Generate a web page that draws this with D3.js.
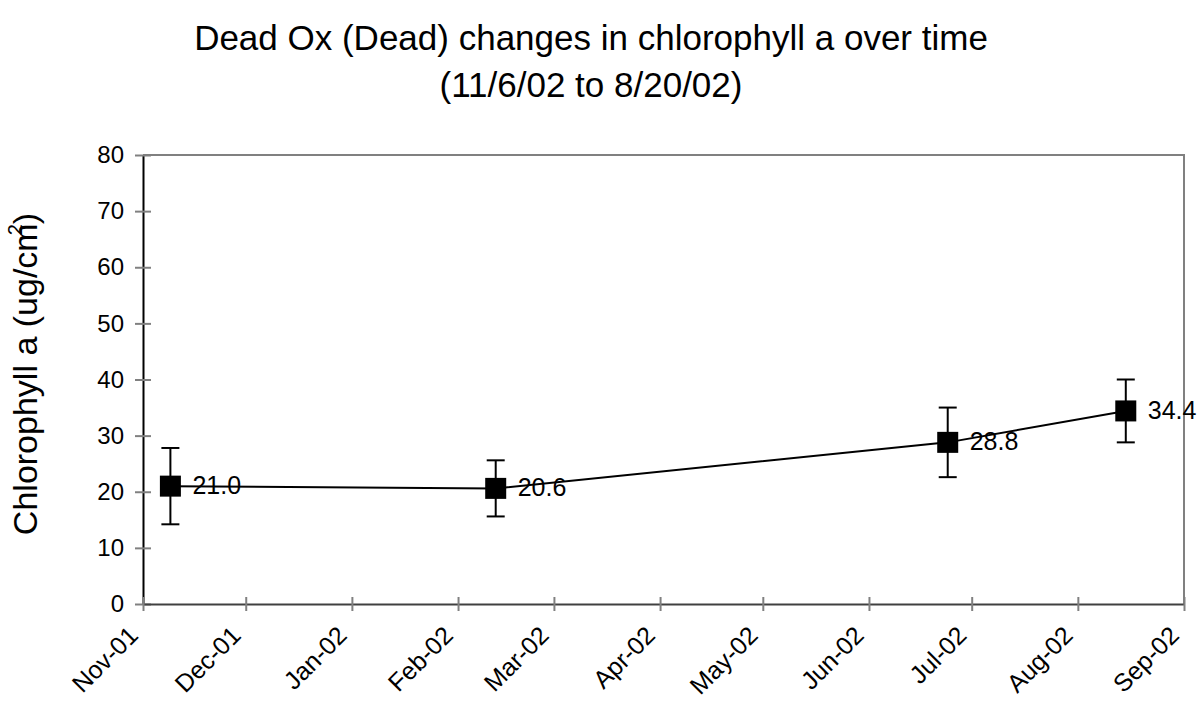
<!DOCTYPE html>
<html>
<head>
<meta charset="utf-8">
<script src="https://cdn.jsdelivr.net/npm/d3@7"></script>
<style>
  body { margin: 0; background: #fff; }
  text { font-family: "Liberation Sans", Arial, sans-serif; }
</style>
</head>
<body>
<script>
// sample dates, values and error bars
const dates = ["2001-11-09", "2002-02-12", "2002-06-24", "2002-08-15"];
const values = [21.0, 20.6, 28.8, 34.4];
const errors = [6.8, 5.0, 6.2, 5.6];
const yTicks = [0, 10, 20, 30, 40, 50, 60, 70, 80];
const monthTicks = ["2001-11-01", "2001-12-01", "2002-01-01", "2002-02-01", "2002-03-01",
  "2002-04-01", "2002-05-01", "2002-06-01", "2002-07-01", "2002-08-01", "2002-09-01"];

const w = 1198;
const h = 702;
const padL = 143, padR = 1184, padT = 155, padB = 604;

const parse = d3.timeParse("%Y-%m-%d");
const data = dates.map((d, i) => ({ date: parse(d), v: values[i], e: errors[i] }));

const xScale = d3.scaleTime()
  .domain([parse(monthTicks[0]), parse(monthTicks[monthTicks.length - 1])])
  .range([padL, padR]);

const yScale = d3.scaleLinear()
  .domain([0, 80])
  .range([padB, padT]);

const svg = d3.select("body")
  .append("svg")
  .attr("width", w)
  .attr("height", h);

// title
svg.append("text")
  .attr("x", 591).attr("y", 50)
  .attr("text-anchor", "middle")
  .attr("font-size", 35)
  .text("Dead Ox (Dead) changes in chlorophyll a over time");
svg.append("text")
  .attr("x", 591).attr("y", 97)
  .attr("text-anchor", "middle")
  .attr("font-size", 35)
  .text("(11/6/02 to 8/20/02)");

// plot frame (top + right)
svg.append("path")
  .attr("d", `M${padL},${padT}H${padR}V${padB}`)
  .attr("fill", "none")
  .attr("stroke", "#808080")
  .attr("stroke-width", 2);

// y axis
const yAxis = d3.axisLeft(yScale)
  .tickValues(yTicks)
  .tickSizeInner(8)
  .tickSizeOuter(0);

const gy = svg.append("g")
  .attr("transform", "translate(" + padL + ",0)")
  .call(yAxis);
gy.select(".domain").attr("stroke", "#000").attr("stroke-width", 2);
gy.selectAll(".tick line").attr("stroke", "#808080").attr("stroke-width", 2).attr("x2", 8).attr("x1", -8);
gy.selectAll(".tick text").attr("font-size", 24).attr("fill", "#000")
  .attr("font-family", "Liberation Sans, Arial, sans-serif").attr("x", -19);

// x axis
const fmt = d3.timeFormat("%b-%y");
const xAxis = d3.axisBottom(xScale)
  .tickValues(monthTicks.map(parse))
  .tickFormat(fmt)
  .tickSizeOuter(0);

const gx = svg.append("g")
  .attr("transform", "translate(0," + padB + ")")
  .call(xAxis);
gx.select(".domain").attr("stroke", "#404040").attr("stroke-width", 2);
gx.selectAll(".tick line").attr("stroke", "#808080").attr("stroke-width", 2).attr("y1", -7).attr("y2", 7);
gx.selectAll(".tick text")
  .attr("font-size", 25).attr("fill", "#000")
  .attr("font-family", "Liberation Sans, Arial, sans-serif")
  .attr("text-anchor", "end")
  .attr("dy", null)
  .attr("y", 0)
  .attr("transform", "translate(-4,33) rotate(-45)");

// line
const line = d3.line()
  .x(d => xScale(d.date))
  .y(d => yScale(d.v));

svg.append("path")
  .datum(data)
  .attr("d", line)
  .attr("fill", "none")
  .attr("stroke", "#000")
  .attr("stroke-width", 2);

// error bars
const eb = svg.selectAll(".err")
  .data(data)
  .enter()
  .append("g")
  .attr("class", "err")
  .attr("stroke", "#000")
  .attr("stroke-width", 2);
eb.append("line")
  .attr("x1", d => xScale(d.date)).attr("x2", d => xScale(d.date))
  .attr("y1", d => yScale(d.v + d.e)).attr("y2", d => yScale(d.v - d.e));
eb.append("line")
  .attr("x1", d => xScale(d.date) - 9).attr("x2", d => xScale(d.date) + 9)
  .attr("y1", d => yScale(d.v + d.e)).attr("y2", d => yScale(d.v + d.e));
eb.append("line")
  .attr("x1", d => xScale(d.date) - 9).attr("x2", d => xScale(d.date) + 9)
  .attr("y1", d => yScale(d.v - d.e)).attr("y2", d => yScale(d.v - d.e));

// markers
svg.selectAll(".pt")
  .data(data)
  .enter()
  .append("rect")
  .attr("class", "pt")
  .attr("x", d => xScale(d.date) - 10.5)
  .attr("y", d => yScale(d.v) - 10.5)
  .attr("width", 21)
  .attr("height", 21)
  .attr("fill", "#000");

// value labels
svg.selectAll(".lbl")
  .data(data)
  .enter()
  .append("text")
  .attr("class", "lbl")
  .attr("x", d => xScale(d.date) + 22)
  .attr("y", d => yScale(d.v) + 8)
  .attr("font-size", 25)
  .text(d => d.v.toFixed(1));

// y axis title
const yt = svg.append("text")
  .attr("transform", "translate(37,374) rotate(-90)")
  .attr("text-anchor", "middle")
  .attr("font-size", 34);
yt.append("tspan").text("Chlorophyll a (ug/cm");
yt.append("tspan").attr("font-size", 20).attr("dy", -15).attr("dx", -12).text("2");
yt.append("tspan").attr("dy", 15).text(")");
</script>
</body>
</html>
